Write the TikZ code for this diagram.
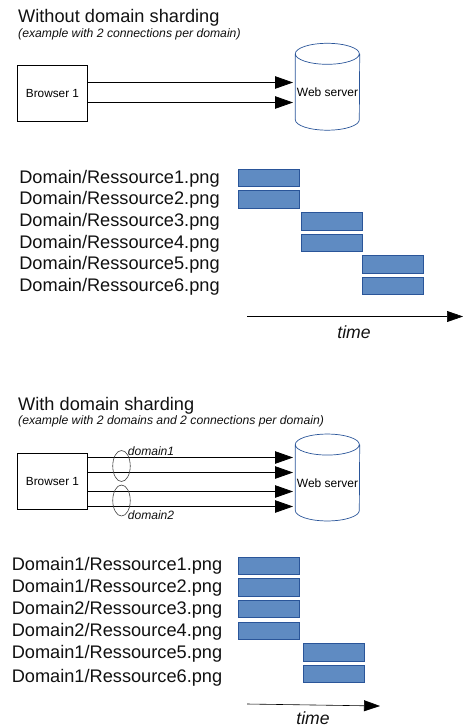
\documentclass[tikz,border=0pt]{standalone}
\usepackage{fontspec}
\setmainfont{Liberation Sans}
\usetikzlibrary{arrows.meta,shapes.geometric,positioning}
\definecolor{serverblue}{HTML}{2A5599}
\definecolor{barfill}{HTML}{5F8BC2}
\definecolor{inktext}{HTML}{111111}
\newcommand{\serverdrum}[1]{\draw[draw=serverblue,line width=0.7pt]
  ([yshift=-10.5pt]#1.north west) arc[start angle=180,end angle=540,x radius=32pt,y radius=10.5pt]
  -- ([yshift=10.5pt]#1.south west) arc[start angle=180,end angle=360,x radius=32pt,y radius=10.5pt]
  -- ([yshift=-10.5pt]#1.north east);}

\begin{document}
\begin{tikzpicture}[x=1pt,y=-1pt,>={Triangle[length=18pt,width=12.5pt]},
                    node distance=21.6pt, text=inktext]
  \tikzstyle{title}=[anchor=west,inner sep=0pt,font=\fontsize{18.2}{20}\selectfont]
  \tikzstyle{subtitle}=[anchor=west,inner sep=0pt,font=\fontsize{12.2}{14}\selectfont\itshape]
  \tikzstyle{resource}=[inner sep=0pt,font=\fontsize{18.2}{20}\selectfont]
  \tikzstyle{browser}=[draw=black,minimum width=70pt,minimum height=55.5pt,inner sep=0pt,
                       font=\fontsize{11.8}{13}\selectfont,text=black]
  \tikzstyle{server}=[minimum width=64pt,minimum height=86.5pt,inner sep=0pt]
  \tikzstyle{webtext}=[inner sep=0pt,font=\fontsize{12}{14}\selectfont,text=black]
  \tikzstyle{bar}=[draw=serverblue,fill=barfill,minimum width=61pt,minimum height=17.4pt,inner sep=0pt]
  \tikzstyle{conn}=[->,draw=black,line width=0.75pt]
  \tikzstyle{timeline}=[->,draw=black,line width=0.6pt,>={Triangle[length=16pt,width=11pt]}]
  \tikzstyle{group}=[draw=black!75,ellipse,minimum width=17.5pt,minimum height=31pt,inner sep=0pt,line width=0.6pt]
  \tikzstyle{note}=[inner sep=0pt,font=\fontsize{12.1}{14}\selectfont\itshape]
  \tikzstyle{timenote}=[inner sep=0pt,font=\fontsize{17.6}{20}\selectfont\itshape]

  \useasboundingbox (0,0) rectangle (463,727);

  % first case
  \node[title]    (title1) at (18,17.5) {Without domain sharding};
  \node[subtitle] (sub1)   at (18,34) {(example with 2 connections per domain)};

  \node[browser] (browser1) at (52.5,93.25) {Browser 1};
  \node[server]  (server1)  at (327.5,86.75) {};
  \serverdrum{server1}
  \node[webtext] (web1) at (327.5,92) {Web server};
  \coordinate (in1a) at (293,82.5);
  \coordinate (in1b) at (293,102.5);
  \draw[conn] (browser1.east |- in1a) -- (in1a);
  \draw[conn] (browser1.east |- in1b) -- (in1b);

  \node[resource] (res1) at (119.5,178.5) {Domain/Ressource1.png};
  \node[resource] (res2) [below of=res1] {Domain/Ressource2.png};
  \node[resource] (res3) [below of=res2] {Domain/Ressource3.png};
  \node[resource] (res4) [below of=res3] {Domain/Ressource4.png};
  \node[resource] (res5) [below of=res4] {Domain/Ressource5.png};
  \node[resource] (res6) [below of=res5] {Domain/Ressource6.png};

  \node[bar] (bar1) at (269,177.7) {};
  \node[bar] (bar2) [below of=bar1] {};
  \node[bar] (bar3) at (332,221) {};
  \node[bar] (bar4) [below of=bar3] {};
  \node[bar] (bar5) at (393,264.2) {};
  \node[bar] (bar6) [below of=bar5] {};

  \coordinate (start1) at (247,316.5);
  \coordinate (end1) at (463,316.5);
  \draw[timeline] (start1) -- (end1);
  \node[timenote] (time1) at (354,332.5) {time};

  % second case
  \node[title]    (title2) at (18,405.5) {With domain sharding};
  \node[subtitle] (sub2)   at (18,421) {(example with 2 domains and 2 connections per domain)};

  \node[browser] (browser2) at (52.5,481.25) {Browser 1};
  \node[server]  (server2)  at (327.5,477.5) {};
  \serverdrum{server2}
  \node[webtext] (web2) at (327.5,483) {Web server};
  \coordinate (in2a) at (293,457.5);
  \coordinate (in2b) at (293,472.5);
  \coordinate (in2c) at (293,491.5);
  \coordinate (in2d) at (293,506.5);
  \draw[conn] (browser2.east |- in2a) -- (in2a);
  \draw[conn] (browser2.east |- in2b) -- (in2b);
  \draw[conn] (browser2.east |- in2c) -- (in2c);
  \draw[conn] (browser2.east |- in2d) -- (in2d);

  \node[group] (group1) at (121.5,466) {};
  \node[group] (group2) at (121.5,500.5) {};
  \node[note] (domain1) at (151,451) {domain1};
  \node[note] (domain2) at (151,515.5) {domain2};

  \node[resource] (dres1) at (117,566) {Domain1/Ressource1.png};
  \node[resource] (dres2) [below of=dres1,node distance=22pt] {Domain1/Ressource2.png};
  \node[resource] (dres3) [below of=dres2,node distance=22pt] {Domain2/Ressource3.png};
  \node[resource] (dres4) [below of=dres3,node distance=22pt] {Domain2/Ressource4.png};
  \node[resource] (dres5) [below of=dres4] {Domain1/Ressource5.png};
  \node[resource] (dres6) [below of=dres5,node distance=24pt] {Domain1/Ressource6.png};

  \node[bar] (dbar1) at (269,565.7) {};
  \node[bar] (dbar2) [below of=dbar1] {};
  \node[bar] (dbar3) [below of=dbar2] {};
  \node[bar] (dbar4) [below of=dbar3] {};
  \node[bar] (dbar5) at (334,652) {};
  \node[bar] (dbar6) [below of=dbar5] {};

  \coordinate (start2) at (247,704);
  \coordinate (end2) at (380,706);
  \draw[timeline] (start2) -- (end2);
  \node[timenote] (time2) at (313,718.5) {time};
\end{tikzpicture}
\end{document}
